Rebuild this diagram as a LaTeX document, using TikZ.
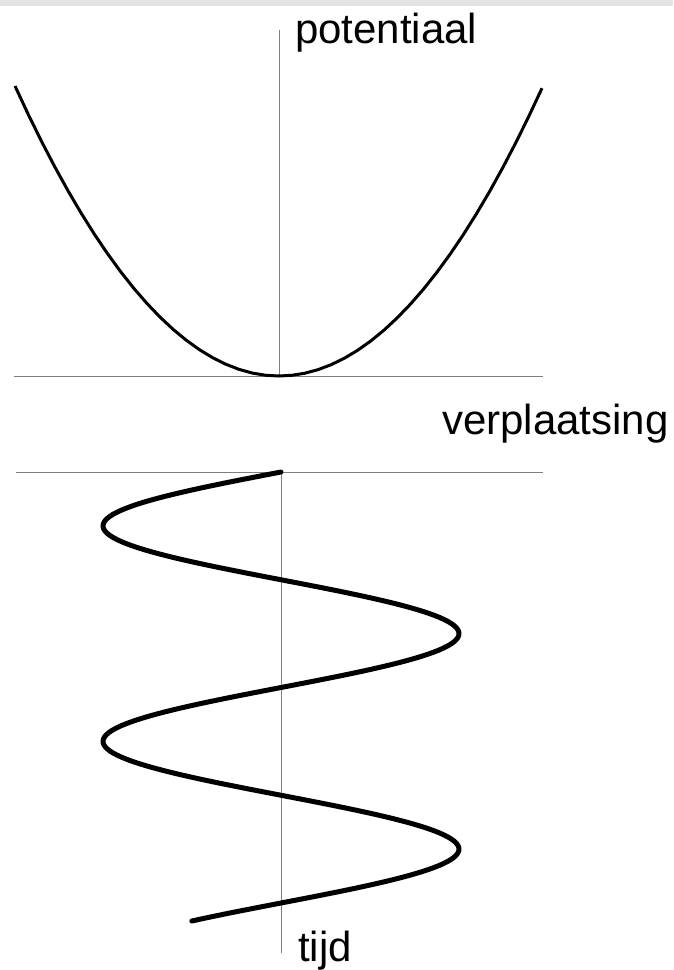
\documentclass[tikz,border=0pt]{standalone}
\usepackage{fontspec}
\setmainfont{Liberation Sans}
\definecolor{topbar}{HTML}{E4E4E4}
\definecolor{axisgray}{HTML}{7F7F7F}
\tikzset{
  axisline/.style={draw=axisgray, line width=1pt},
  curveline/.style={draw=black, line width=3pt, line join=round},
  waveline/.style={draw=black, line width=5pt, line cap=round, line join=round},
  axislabel/.style={inner sep=0pt, anchor=base west, font=\fontsize{42}{50}\selectfont}
}
\begin{document}
\begin{tikzpicture}[x=1pt,y=-1pt]
\useasboundingbox (0,0) rectangle (673,970);
\fill[topbar] (0,0) rectangle (673,6);
% upper graph
\coordinate (pL) at (14,376);
\coordinate (pR) at (543,376);
\coordinate (pT) at (279,30);
\coordinate (pO) at (279,376);
\draw[axisline] (pL) -- (pR);
\draw[axisline] (pT) -- (pO);
\draw[curveline] plot[domain=-264:263, samples=41] ({279+\x}, {376-290*(\x/264)*(\x/264)});
\node[axislabel] (pot) at (295,43) {potentiaal};
% lower graph
\coordinate (tL) at (16,472);
\coordinate (tR) at (543,472);
\coordinate (tO) at (281,472);
\coordinate (tB) at (281,953);
\draw[axisline] (tL) -- (tR);
\draw[axisline] (tO) -- (tB);
\draw[waveline] plot[domain=0:449, samples=220] ({281-178*sin(1.67053*\x)}, {472+\x});
\node[axislabel] (ver) at (442,434) {verplaatsing};
\node[axislabel] (tijd) at (298,961) {tijd};
\end{tikzpicture}
\end{document}
